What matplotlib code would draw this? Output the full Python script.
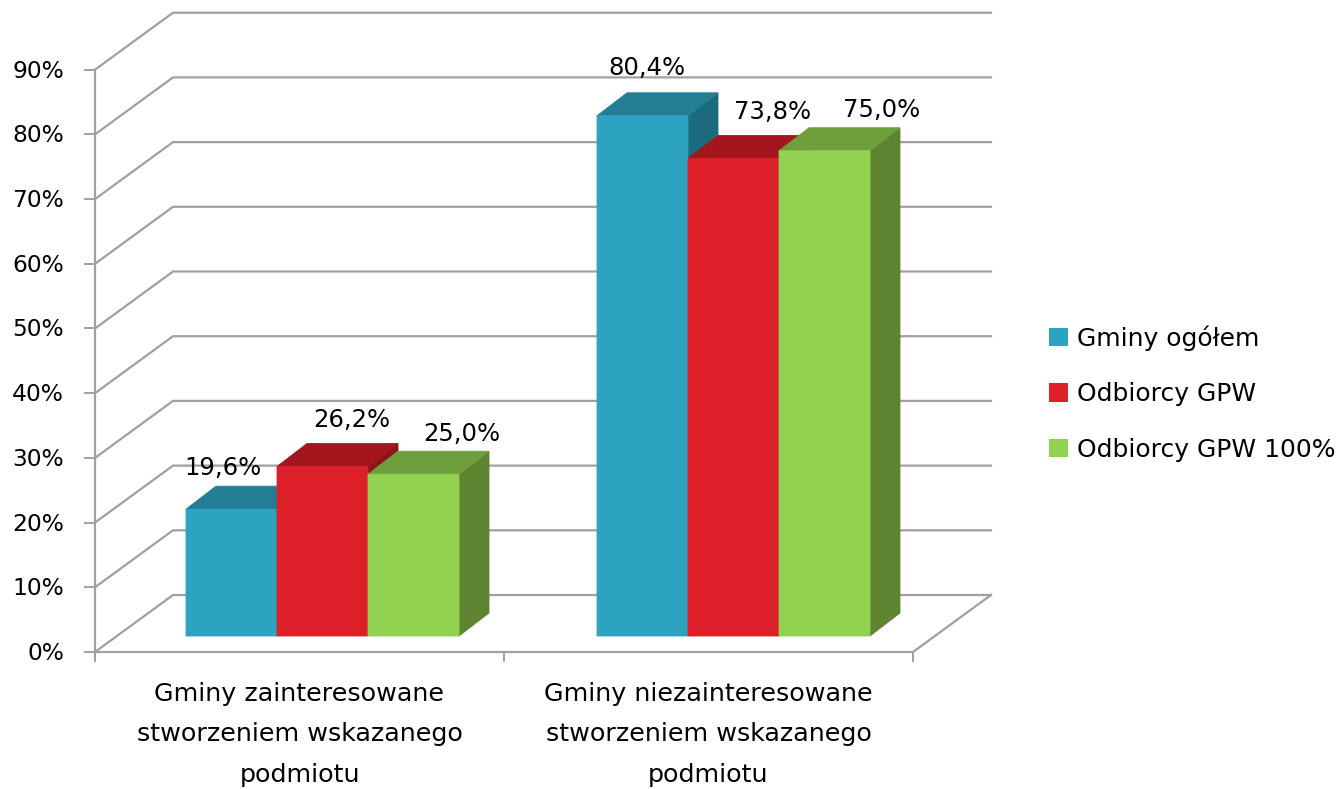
import matplotlib
matplotlib.use("Agg")
import matplotlib.pyplot as plt
from matplotlib.patches import Polygon, Rectangle

categories = ["Gminy zainteresowane\nstworzeniem wskazanego\npodmiotu",
              "Gminy niezainteresowane\nstworzeniem wskazanego\npodmiotu"]
series_names = ["Gminy ogółem", "Odbiorcy GPW", "Odbiorcy GPW 100%"]
gminy_ogolem = [19.6, 80.4]
odbiorcy_gpw = [26.2, 73.8]
odbiorcy_gpw_100 = [25.0, 75.0]
value_labels = [["19,6%", "80,4%"], ["26,2%", "73,8%"], ["25,0%", "75,0%"]]
y_ticks = [0, 10, 20, 30, 40, 50, 60, 70, 80, 90]

front_cols = ["#2ca3c1", "#dd1f29", "#91d250"]
top_cols = ["#237d94", "#a5151d", "#6f9e3d"]
side_cols = ["#1c6a7d", "#8e141b", "#5e8431"]
grid_col = "#a0a0a0"

W, H = 1340, 789
fig = plt.figure(figsize=(W / 100, H / 100), dpi=100)
ax = fig.add_axes([0, 0, 1, 1])
ax.axis("off")

# one category is 409 px wide, one percent is 6.47 px
cat_px = 409.0
pct_px = 6.47
x0_px, y0_px = 95.0, 652.0
ax.set_xlim(-x0_px / cat_px, (W - x0_px) / cat_px)
ax.set_ylim(-(H - y0_px) / pct_px, y0_px / pct_px)

# depth of the walls and of the bars
wall_dx, wall_dy = 78 / cat_px, 57 / pct_px
bar_dx, bar_dy = 30 / cat_px, 23 / pct_px
base_dy = 16 / pct_px
bar_w = 91.0 / cat_px
first_bar = 91 / cat_px
group_step = 411 / cat_px
n_cat = len(categories)

for t in y_ticks:
    ax.plot([0, wall_dx, n_cat + wall_dx], [t, t + wall_dy, t + wall_dy],
            color=grid_col, lw=1.6, solid_joinstyle="miter", zorder=1)
    ax.plot([-10 / cat_px, 0], [t, t], color=grid_col, lw=1.4, zorder=1)
    ax.text(-31 / cat_px, t - 1.5 / pct_px, "%d%%" % t, ha="right", va="center",
            fontsize=16.8, color="black")

ax.plot([0, n_cat, n_cat + wall_dx], [0, 0, wall_dy], color=grid_col, lw=1.6, zorder=1)
ax.plot([0, 0], [0, max(y_ticks)], color=grid_col, lw=1.6, zorder=1)
for i in range(n_cat + 1):
    ax.plot([i, i], [0, -9 / pct_px], color=grid_col, lw=1.4, zorder=1)

for i in range(n_cat):
    ax.text(i + 0.5, -30 / pct_px, categories[i], ha="center", va="top",
            fontsize=18.3, linespacing=1.86, color="black")

series = [gminy_ogolem, odbiorcy_gpw, odbiorcy_gpw_100]
# label nudges in px, the original labels are not placed evenly
label_dx = [[-9, 4], [29, 39], [48, 57]]
label_dy = [[6, 13], [11, 12], [5, 6]]
for i in range(n_cat):
    for s in range(3):
        v = series[s][i]
        left = i * group_step + first_bar + s * bar_w
        right = left + bar_w
        bottom = base_dy
        top = base_dy + v
        # snapping off, otherwise the front and the top leave a seam
        ax.add_patch(Polygon([(right, bottom), (right + bar_dx, bottom + bar_dy),
                              (right + bar_dx, top + bar_dy), (right, top)],
                             color=side_cols[s], lw=0.6, snap=False, zorder=2 + s))
        ax.add_patch(Polygon([(left, top), (left + bar_dx, top + bar_dy),
                              (right + bar_dx, top + bar_dy), (right, top)],
                             color=top_cols[s], lw=0.6, snap=False, zorder=2 + s))
        ax.add_patch(Rectangle((left, bottom), bar_w, v, color=front_cols[s], lw=0.6,
                               snap=False, zorder=2 + s))
        ax.text(left + bar_w / 2 + label_dx[s][i] / cat_px, top + bar_dy + label_dy[s][i] / pct_px,
                value_labels[s][i], ha="center", va="bottom", fontsize=17.5, color="black", zorder=8)

# legend
handles = [Rectangle((0, 0), 1, 1, color=c, lw=0) for c in front_cols]
ax.legend(handles, series_names, loc="center left", bbox_to_anchor=(1049 / W, 1 - 393.5 / H),
          frameon=False, fontsize=18, handlelength=0.76, handleheight=0.76,
          handletextpad=0.36, labelspacing=1.26, borderpad=0, borderaxespad=0,
          bbox_transform=fig.transFigure)

fig.savefig("out.png", dpi=100)
